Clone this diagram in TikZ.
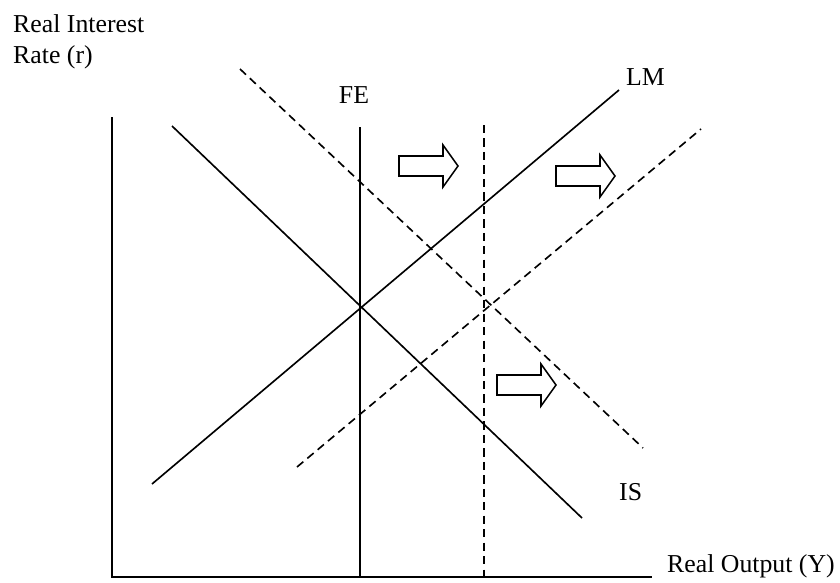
\documentclass[tikz,border=0pt]{standalone}
\usepackage{fontspec}
\setmainfont{Liberation Serif}
\begin{document}
\begin{tikzpicture}[x=0.03cm,y=-0.03cm,font=\fontsize{22}{27}\selectfont,
  curve/.style={line width=1.4pt},
  shifted/.style={line width=1.4pt, dash pattern=on 7pt off 4.5pt},
  lbl/.style={inner sep=0pt, anchor=base west},
  shiftarrow/.pic={\draw[line width=1.3pt, line join=miter] (0,-10) -- (44,-10) -- (44,-21) -- (59,0) -- (44,21) -- (44,10) -- (0,10) -- cycle;}]
\useasboundingbox (0,0) rectangle (840,582);
% axes
\coordinate (top) at (112,117);
\coordinate (origin) at (112,577);
\coordinate (xend) at (652,577);
\draw[curve] (top) -- (origin) -- (xend);
\node[lbl, anchor=north west, align=left] (rlab) at (13,14) {Real Interest\\Rate (r)};
\node[lbl] (ylab) at (667,572) {Real Output (Y)};
% original curves
\coordinate (fetop) at (360,127);
\coordinate (febot) at (360,577);
\draw[curve] (fetop) -- (febot);
\coordinate (istop) at (172,126);
\coordinate (isbot) at (582,518);
\draw[curve] (istop) -- (isbot);
\coordinate (lmbot) at (152,484);
\coordinate (lmtop) at (619,90);
\draw[curve] (lmbot) -- (lmtop);
\node[lbl, anchor=base] (felab) at (354,103) {FE};
\node[lbl] (lmlab) at (626,85) {LM};
\node[lbl] (islab) at (619,500) {IS};
% shifted curves
\coordinate (fe2top) at (484,125);
\coordinate (fe2bot) at (484,577);
\draw[shifted] (fe2top) -- (fe2bot);
\coordinate (is2top) at (240,69);
\coordinate (is2bot) at (643,448);
\draw[shifted] (is2top) -- (is2bot);
\coordinate (lm2bot) at (297,467);
\coordinate (lm2top) at (701,129);
\draw[shifted] (lm2bot) -- (lm2top);
% shift arrows
\pic at (399,166) {shiftarrow};
\pic at (556,176) {shiftarrow};
\pic at (497,385) {shiftarrow};
\end{tikzpicture}
\end{document}
